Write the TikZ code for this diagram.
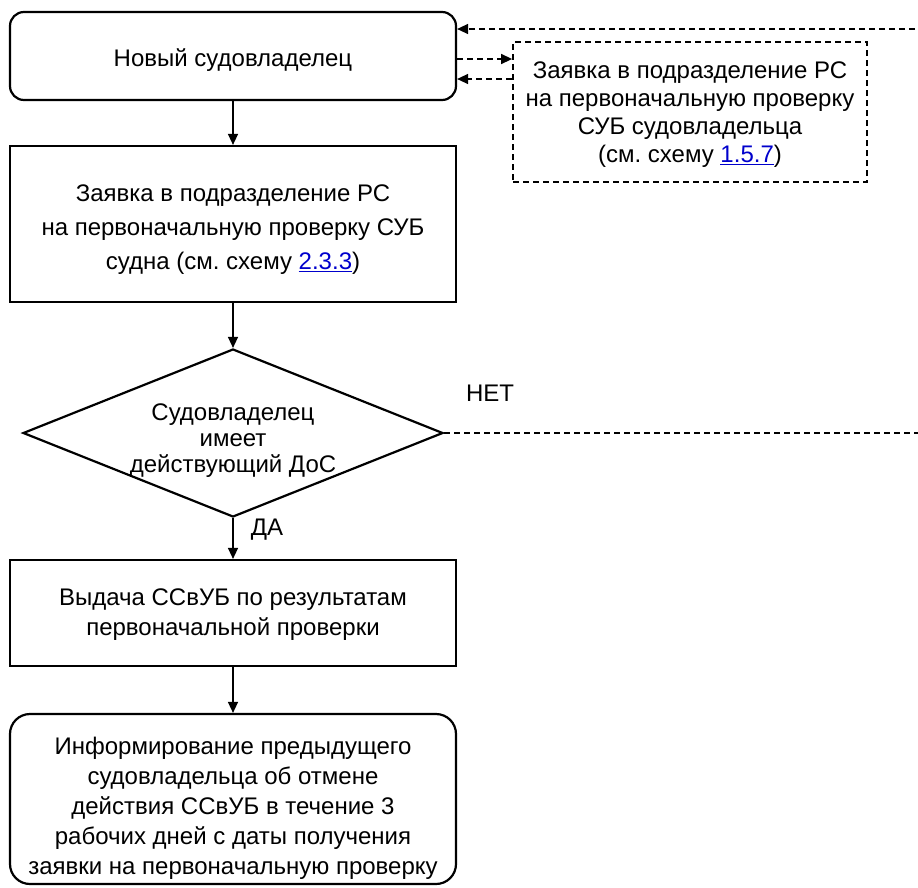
\documentclass[tikz,border=0pt]{standalone}
\usepackage{fontspec}
\setmainfont{Liberation Sans}
\usetikzlibrary{shapes.geometric,arrows.meta}
\definecolor{linkblue}{RGB}{0,0,204}
\newcommand{\lnk}[1]{\textcolor{linkblue}{\underline{#1}}}
\frenchspacing
\begin{document}
\begin{tikzpicture}[x=1pt,y=-1pt,
 font=\fontsize{24}{28}\selectfont,
 box/.style={draw, line width=2.2pt, minimum width=446pt, inner sep=0pt},
 rbox/.style={box, rounded corners=14pt},
 txt/.style={align=center, inner sep=0pt},
 flow/.style={line width=1.4pt, -{Triangle[length=11pt,width=10pt]}},
 dashline/.style={line width=1.4pt, dash pattern=on 6pt off 4pt},
 dflow/.style={flow, dash pattern=on 6pt off 4pt},
 lbl/.style={inner sep=0pt}
]
\path[use as bounding box] (0,0) rectangle (918,887);
% shapes
\node[rbox, minimum height=88pt] (n1) at (233,56) {};
\node[box, minimum height=156pt] (n2) at (233,224) {};
\node[draw, diamond, line width=2.2pt, minimum width=420pt, minimum height=168pt, inner sep=0pt] (dec) at (233,433) {};
\node[box, minimum height=106pt] (n3) at (233,613) {};
\node[rbox, rounded corners=20pt, minimum height=170pt] (n4) at (233,799) {};
\node[draw, dash pattern=on 6pt off 4pt, line width=1.8pt, minimum width=354pt, minimum height=140pt, inner sep=0pt] (req) at (690,112) {};
% texts
\node[txt] (n1t) at ([yshift=-4pt]n1.center) {Новый судовладелец};
\node[txt, font=\fontsize{24}{34}\selectfont] (n2t) at ([yshift=-6pt]n2.center) {Заявка в подразделение РС\\на первоначальную проверку СУБ\\судна (см. схему \lnk{2.3.3})};
\node[txt, font=\fontsize{24}{26}\selectfont] (dect) at ([yshift=-8pt]dec.center) {Судовладелец\\имеет\\действующий ДоС};
\node[txt, font=\fontsize{24}{30}\selectfont] (n3t) at ([yshift=-2pt]n3.center) {Выдача ССвУБ по результатам\\первоначальной проверки};
\node[txt, font=\fontsize{24}{30}\selectfont] (n4t) at ([yshift=-9pt]n4.center) {Информирование предыдущего\\судовладельца об отмене\\действия ССвУБ в течение 3\\рабочих дней с даты получения\\заявки на первоначальную проверку};
\node[txt, font=\fontsize{24}{28}\selectfont] (reqt) at ([yshift=-3pt]req.center) {Заявка в подразделение РС\\на первоначальную проверку\\СУБ судовладельца\\(см. схему \lnk{1.5.7})};
\node[lbl] (no) at (490,393) {НЕТ};
\node[lbl] (yes) at (267,530) {ДА};
% connectors
\coordinate (r1) at (925,433);
\coordinate (r2) at (925,29);
\coordinate (m1) at (0,59);
\coordinate (m2) at (0,79);
\draw[flow] (n1) -- (n2);
\draw[flow] (n2) -- (dec);
\draw[flow] (dec.south) -- (n3.north);
\draw[flow] (n3) -- (n4);
\draw[dashline] (dec.east) -- (r1);
\draw[dflow] (r2) -- (n1.east |- r2);
\draw[dflow] (n1.east |- m1) -- (req.west |- m1);
\draw[dflow] (req.west |- m2) -- (n1.east |- m2);
\end{tikzpicture}
\end{document}
